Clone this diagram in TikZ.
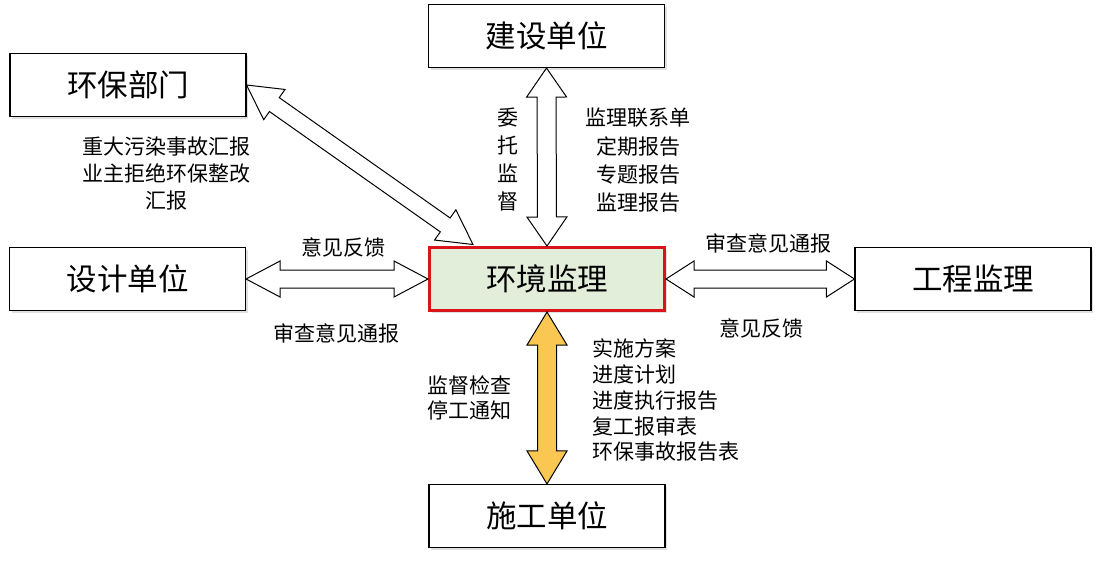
\documentclass[tikz,border=0pt]{standalone}
\usepackage{fontspec}
\setmainfont{Noto Sans CJK SC}
\usetikzlibrary{calc,shadows}
\definecolor{boxgreen}{HTML}{E3EEDA}
\definecolor{boxred}{HTML}{D9151B}
\definecolor{arryellow}{HTML}{F9C752}
\newcommand\dblarrow[6]{% style, start, end, head length, head half-width, shaft half-width
  \path (#2) coordinate (da1) (#3) coordinate (da2);
  \coordinate (dp1) at ($(da1)!#4!(da2)$);
  \coordinate (dp2) at ($(da2)!#4!(da1)$);
  \draw[#1] (da1) -- ($(dp1)!#5!90:(da2)$) -- ($(dp1)!#6!90:(da2)$)
    -- ($(dp2)!#6!-90:(da1)$) -- ($(dp2)!#5!-90:(da1)$) -- (da2)
    -- ($(dp2)!#5!90:(da1)$) -- ($(dp2)!#6!90:(da1)$)
    -- ($(dp1)!#6!-90:(da2)$) -- ($(dp1)!#5!-90:(da2)$) -- cycle;
}
\begin{document}
\begin{tikzpicture}[x=1pt,y=-1pt,
  unitbox/.style={draw=black, line width=1.1pt, fill=white, minimum width=236pt, minimum height=63pt,
    inner sep=0pt, font=\fontsize{30.5}{30.5}\selectfont,
    drop shadow={shadow xshift=2pt, shadow yshift=-2pt, fill=black, opacity=0.12}},
  centerbox/.style={unitbox, draw=boxred, line width=3pt, fill=boxgreen, minimum width=235pt, minimum height=63pt},
  lbl/.style={inner sep=0pt, font=\fontsize{21}{27}\selectfont},
  blockarr/.style={draw=black, line width=1pt, fill=white, line join=miter},
  yellowarr/.style={blockarr, fill=arryellow}
]
\useasboundingbox (0,0) rectangle (1102,565);
\fill[white] (0,0) rectangle (1102,565);

\node[unitbox] (hb) at (128,85) {环保部门};
\node[unitbox] (js) at (546.5,36) {建设单位};
\node[unitbox] (sj) at (127.5,279) {设计单位};
\node[centerbox] (hj) at (547,279) {环境监理};
\node[unitbox] (gc) at (973,279) {工程监理};
\node[unitbox] (sg) at (547,516) {施工单位};

\coordinate (hjtl) at ($(hj.north west)+(45,-1.5)$);

\dblarrow{blockarr}{js.south}{hj.north}{29pt}{20pt}{9.5pt}
\dblarrow{yellowarr}{hj.south}{sg.north}{33pt}{20pt}{9.5pt}
\dblarrow{blockarr}{sj.east}{hj.west}{34pt}{18pt}{9pt}
\dblarrow{blockarr}{hj.east}{gc.west}{28pt}{18pt}{9pt}
\dblarrow{blockarr}{hb.east}{hjtl}{34pt}{18.5pt}{8.5pt}

\node[lbl, align=center] (l1) at (166,173.5) {重大污染事故汇报\\业主拒绝环保整改\\汇报};
\node[lbl, align=center, font=\fontsize{21}{28}\selectfont] (l2) at (508,160) {委\\托\\监\\督};
\node[lbl, align=center, font=\fontsize{21}{28.3}\selectfont] (l3) at (638,160.5) {监理联系单\\定期报告\\专题报告\\监理报告};
\node[lbl] (l4) at (343,247) {意见反馈};
\node[lbl] (l5) at (336,333) {审查意见通报};
\node[lbl] (l6) at (768,243) {审查意见通报};
\node[lbl] (l7) at (761,328) {意见反馈};
\node[lbl, align=center, font=\fontsize{21}{25}\selectfont] (l8) at (469,397.5) {监督检查\\停工通知};
\node[lbl, align=left, anchor=west, font=\fontsize{21}{25.75}\selectfont] (l9) at (592,400.5) {实施方案\\进度计划\\进度执行报告\\复工报审表\\环保事故报告表};
\end{tikzpicture}
\end{document}
